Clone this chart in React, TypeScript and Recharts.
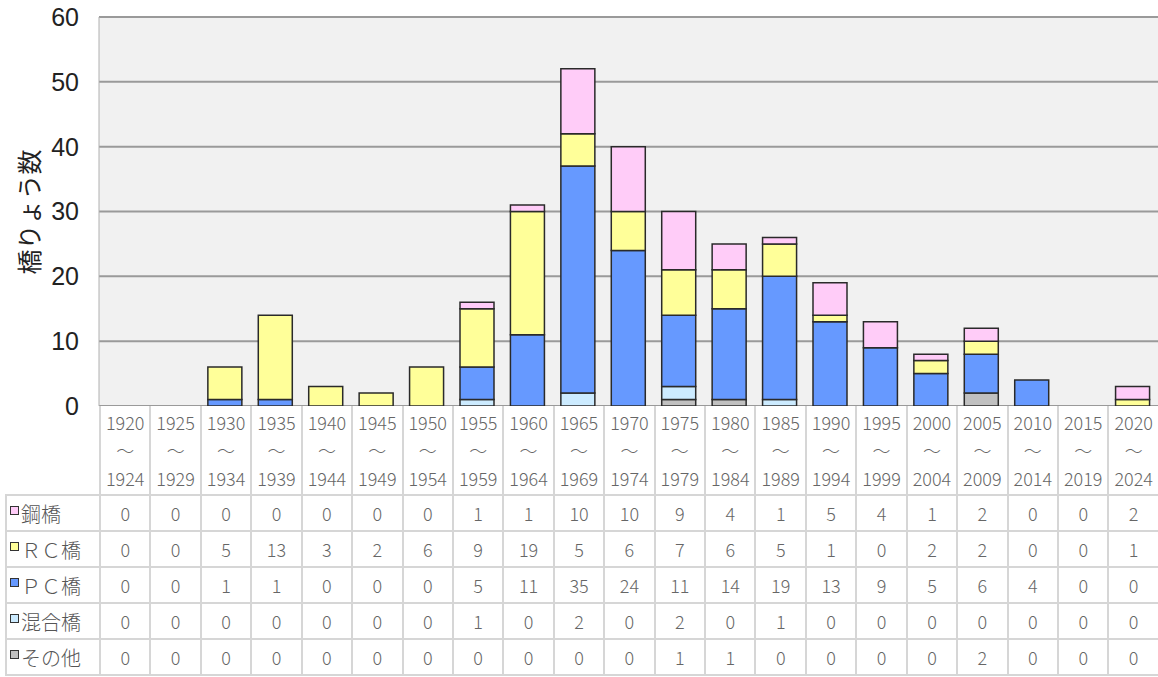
import React from "react";
import { BarChart, Bar, XAxis, YAxis, CartesianGrid } from "recharts";

const startYears = ["1920", "1925", "1930", "1935", "1940", "1945", "1950", "1955", "1960", "1965", "1970", "1975", "1980", "1985", "1990", "1995", "2000", "2005", "2010", "2015", "2020"];
const endYears = ["1924", "1929", "1934", "1939", "1944", "1949", "1954", "1959", "1964", "1969", "1974", "1979", "1984", "1989", "1994", "1999", "2004", "2009", "2014", "2019", "2024"];

const steel = [0, 0, 0, 0, 0, 0, 0, 1, 1, 10, 10, 9, 4, 1, 5, 4, 1, 2, 0, 0, 2];
const rc = [0, 0, 5, 13, 3, 2, 6, 9, 19, 5, 6, 7, 6, 5, 1, 0, 2, 2, 0, 0, 1];
const pc = [0, 0, 1, 1, 0, 0, 0, 5, 11, 35, 24, 11, 14, 19, 13, 9, 5, 6, 4, 0, 0];
const mixed = [0, 0, 0, 0, 0, 0, 0, 1, 0, 2, 0, 2, 0, 1, 0, 0, 0, 0, 0, 0, 0];
const other = [0, 0, 0, 0, 0, 0, 0, 0, 0, 0, 0, 1, 1, 0, 0, 0, 0, 2, 0, 0, 0];

const yTicks = [0, 10, 20, 30, 40, 50, 60];

// table rows, top to bottom (reverse of stack order)
const series = [
  { key: "steel", label: "鋼橋", color: "#FFCCF8", values: steel },
  { key: "rc", label: "ＲＣ橋", color: "#FFFF99", values: rc },
  { key: "pc", label: "ＰＣ橋", color: "#6699FF", values: pc },
  { key: "mixed", label: "混合橋", color: "#CCEBFF", values: mixed },
  { key: "other", label: "その他", color: "#C0C0C0", values: other },
];

const data = startYears.map((s, i) => ({
  name: s,
  steel: steel[i],
  rc: rc[i],
  pc: pc[i],
  mixed: mixed[i],
  other: other[i],
}));

const W = 1158;
const PLOT_LEFT = 99;
const PLOT_TOP = 17;
const PLOT_BOTTOM = 406;
const COL_W = (W - PLOT_LEFT) / startYears.length;
const FIRST_COL = PLOT_LEFT - 5;
const ROW_H = 36;

const tableFont = "'Noto Sans CJK JP', 'Noto Sans', sans-serif";
const border = "2px solid #D6D6D6";

export default function App() {
  const stackOrder = [...series].reverse();
  return (
    <div style={{ position: "absolute", left: 0, top: 0, width: W, height: 677, background: "#fff" }}>
      {/* svg runs a little past the plot so the "0" tick is not clipped */}
      <BarChart
        width={W}
        height={PLOT_BOTTOM + 20}
        data={data}
        margin={{ top: PLOT_TOP, right: 0, bottom: 20, left: 0 }}
        barCategoryGap={0}
      >
        <CartesianGrid
          vertical={false}
          fill="#F1F1F1"
          stroke="#9A9A9A"
          strokeWidth={2}
        />
        <XAxis dataKey="name" hide />
        <YAxis
          width={PLOT_LEFT}
          domain={[0, 60]}
          ticks={yTicks}
          interval={0}
          tickLine={false}
          tickSize={6}
          tickMargin={14}
          axisLine={{ stroke: "#B0B0B0", strokeWidth: 1 }}
          tick={{ fill: "#222", fontSize: 25, fontFamily: "'Liberation Sans Narrow', 'Liberation Sans', sans-serif" }}
        />
        {stackOrder.map((s) => (
          <Bar
            key={s.key}
            dataKey={s.key}
            stackId="a"
            fill={s.color}
            stroke="#2A2A2A"
            strokeWidth={1.5}
            barSize={34}
            isAnimationActive={false}
          />
        ))}
      </BarChart>

      <div
        style={{
          position: "absolute",
          left: 28,
          top: 212,
          transform: "translate(-50%, -50%) rotate(-90deg)",
          fontFamily: tableFont,
          fontSize: 25,
          color: "#222",
          whiteSpace: "nowrap",
        }}
      >
        橋りょう数
      </div>

      <table
        style={{
          position: "absolute",
          left: 5,
          top: PLOT_BOTTOM,
          borderCollapse: "collapse",
          tableLayout: "fixed",
          width: FIRST_COL + COL_W * startYears.length,
          fontFamily: tableFont,
          fontWeight: 300,
          color: "#666",
        }}
      >
        <colgroup>
          <col style={{ width: FIRST_COL }} />
          {startYears.map((s) => (
            <col key={s} style={{ width: COL_W }} />
          ))}
        </colgroup>
        <tbody>
          <tr style={{ height: 89 }}>
            <td style={{ padding: 0 }} />
            {startYears.map((s, i) => (
              <td
                key={s}
                style={{
                  border,
                  borderTop: "none",
                  padding: 0,
                  textAlign: "center",
                  fontSize: 18,
                  lineHeight: "28px",
                  background: "#fff",
                }}
              >
                <div>{s}</div>
                <div>～</div>
                <div>{endYears[i]}</div>
              </td>
            ))}
          </tr>
          {series.map((s) => (
            <tr key={s.key} style={{ height: ROW_H }}>
              <td
                style={{
                  border,
                  padding: "0 0 0 3px",
                  fontSize: 20,
                  color: "#555",
                  whiteSpace: "nowrap",
                  overflow: "hidden",
                  background: "#fff",
                }}
              >
                <span
                  style={{
                    display: "inline-block",
                    width: 7,
                    height: 7,
                    background: s.color,
                    border: "1.5px solid #333",
                    marginRight: 2,
                    verticalAlign: "7px",
                  }}
                />
                {s.label}
              </td>
              {s.values.map((v, i) => (
                <td
                  key={i}
                  style={{ border, padding: 0, textAlign: "center", fontSize: 18, background: "#fff" }}
                >
                  {v}
                </td>
              ))}
            </tr>
          ))}
        </tbody>
      </table>
    </div>
  );
}
